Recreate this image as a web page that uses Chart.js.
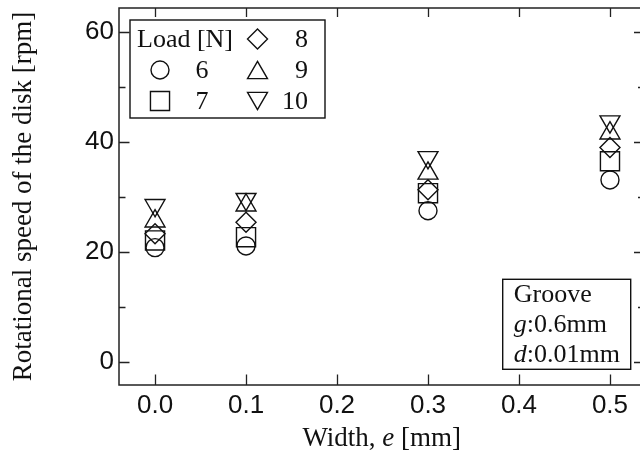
<!DOCTYPE html>
<html>
<head>
<meta charset="utf-8">
<script src="https://cdn.jsdelivr.net/npm/chart.js@4.4.0/dist/chart.umd.min.js"></script>
<style>
    html, body { margin: 0; padding: 0; background: #fff; }
</style>
</head>
<body>
<canvas id="chart" width="640" height="455"></canvas>
<script>
// =============================
// DATA
// =============================
const widths = [0.0, 0.1, 0.3, 0.5];
const load6 = [20.8, 21.1, 27.5, 33.1];
const load7 = [22.1, 22.7, 30.7, 36.5];
const load8 = [23.3, 25.4, 31.3, 39.0];
const load9 = [25.6, 28.5, 34.3, 41.6];
const load10 = [28.5, 29.6, 37.2, 43.7];
const loadNames = ["6", "7", "8", "9", "10"];

const xTicks = [0.0, 0.1, 0.2, 0.3, 0.4, 0.5];
const yTicks = [0, 20, 40, 60];
const yMinorTicks = [10, 30, 50];

const SANS = "'Liberation Sans', Arial, sans-serif";
const SERIF = "'Liberation Serif', 'Times New Roman', serif";
const INK = "#111";

// marker look per load
const markers = [
    { style: "circle", radius: 9, rotation: 0 },
    { style: "rect", radius: 13.5, rotation: 0 },
    { style: "rectRot", radius: 10, rotation: 0 },
    { style: "triangle", radius: 11.5, rotation: 0 },
    { style: "triangle", radius: 11.5, rotation: 180 }
];

const series = [load6, load7, load8, load9, load10];

const datasets = series.map((vals, i) => ({
    label: loadNames[i],
    data: widths.map((w, j) => ({ x: w, y: vals[j] })),
    showLine: false,
    pointStyle: markers[i].style,
    pointRadius: markers[i].radius,
    pointHoverRadius: markers[i].radius,
    pointRotation: markers[i].rotation,
    pointBorderColor: INK,
    pointBackgroundColor: "rgba(0,0,0,0)",
    pointBorderWidth: 1.4
}));

// =============================
// HELPERS
// =============================
function drawMarker(ctx, m, x, y) {
    const r = m.radius;
    ctx.beginPath();
    if (m.style === "circle") {
        ctx.arc(x, y, r, 0, Math.PI * 2);
    } else if (m.style === "rect") {
        const s = r * Math.SQRT1_2;
        ctx.rect(x - s, y - s, 2 * s, 2 * s);
    } else if (m.style === "rectRot") {
        ctx.moveTo(x - r, y);
        ctx.lineTo(x, y - r);
        ctx.lineTo(x + r, y);
        ctx.lineTo(x, y + r);
        ctx.closePath();
    } else {
        let rad = m.rotation * Math.PI / 180;
        ctx.moveTo(x + Math.sin(rad) * r, y - Math.cos(rad) * r);
        for (let k = 0; k < 2; k++) {
            rad += Math.PI * 2 / 3;
            ctx.lineTo(x + Math.sin(rad) * r, y - Math.cos(rad) * r);
        }
        ctx.closePath();
    }
    ctx.stroke();
}

// text made of [string, italic] parts
function drawParts(ctx, parts, x, y, align, size) {
    const fontOf = it => (it ? "italic " : "") + size + "px " + SERIF;
    let total = 0;
    parts.forEach(p => { ctx.font = fontOf(p[1]); total += ctx.measureText(p[0]).width; });
    let cx = align === "center" ? x - total / 2 : x;
    ctx.textAlign = "left";
    parts.forEach(p => {
        ctx.font = fontOf(p[1]);
        ctx.fillText(p[0], cx, y);
        cx += ctx.measureText(p[0]).width;
    });
}

// =============================
// FRAME, TICKS, BOXES
// =============================
const framePlugin = {
    id: "frame",
    afterDraw(chart) {
        const ctx = chart.ctx;
        const a = chart.chartArea;
        const xs = chart.scales.x;
        const ys = chart.scales.y;
        const left = a.left, top = a.top, bottom = a.bottom;
        const right = a.right + 4.5;

        ctx.save();
        ctx.strokeStyle = "#222";
        ctx.lineWidth = 1.5;
        ctx.strokeRect(left, top, right - left, bottom - top);

        ctx.lineWidth = 1.3;
        ctx.beginPath();
        xTicks.forEach(v => {
            const px = Math.round(xs.getPixelForValue(v)) + 0.5;
            ctx.moveTo(px, bottom); ctx.lineTo(px, bottom - 10.5);
            ctx.moveTo(px, top); ctx.lineTo(px, top + 9);
        });
        yTicks.forEach(v => {
            const py = Math.round(ys.getPixelForValue(v)) + 0.5;
            ctx.moveTo(left, py); ctx.lineTo(left + 10.5, py);
            ctx.moveTo(right, py); ctx.lineTo(right - 10.5, py);
        });
        yMinorTicks.forEach(v => {
            const py = Math.round(ys.getPixelForValue(v)) + 0.5;
            ctx.moveTo(left, py); ctx.lineTo(left + 6.5, py);
            ctx.moveTo(right, py); ctx.lineTo(right - 6.5, py);
        });
        ctx.stroke();

        // legend box
        const lx = left + 11, ly = top + 12, lw = 195, lh = 98;
        ctx.fillStyle = "#fff";
        ctx.fillRect(lx, ly, lw, lh);
        ctx.strokeStyle = INK;
        ctx.lineWidth = 1.4;
        ctx.strokeRect(lx, ly, lw, lh);

        ctx.fillStyle = INK;
        ctx.textBaseline = "alphabetic";
        ctx.font = "26px " + SERIF;
        ctx.textAlign = "left";
        ctx.fillText("Load [N]", lx + 7, ly + 26.5);

        const cells = [
            { m: 0, col: 0, row: 1 },
            { m: 1, col: 0, row: 2 },
            { m: 2, col: 1, row: 0 },
            { m: 3, col: 1, row: 1 },
            { m: 4, col: 1, row: 2 }
        ];
        cells.forEach(c => {
            const mk = markers[c.m];
            const mx = lx + (c.col === 0 ? 30 : 127.5);
            let my = ly + 19 + c.row * 31;
            if (mk.style === "triangle") my += mk.rotation ? -2.9 : 2.9;
            ctx.lineWidth = 1.4;
            drawMarker(ctx, mk, mx, my);
            ctx.font = "26px " + SERIF;
            ctx.textAlign = "right";
            const tx = lx + (c.col === 0 ? 78.5 : 178);
            ctx.fillText(loadNames[c.m], tx, ly + 26.5 + c.row * 31);
        });

        // groove box
        const gw = 128, gh = 90;
        const gx = a.right - 9.3 - gw, gy = bottom - 15.7 - gh;
        ctx.fillStyle = "#fff";
        ctx.fillRect(gx, gy, gw, gh);
        ctx.strokeStyle = INK;
        ctx.lineWidth = 1.4;
        ctx.strokeRect(gx, gy, gw, gh);
        ctx.fillStyle = INK;
        drawParts(ctx, [["Groove", false]], gx + 11, gy + 22.5, "left", 26);
        drawParts(ctx, [["g", true], [":0.6mm", false]], gx + 11, gy + 52.5, "left", 26);
        drawParts(ctx, [["d", true], [":0.01mm", false]], gx + 11, gy + 82.5, "left", 26);

        // x axis title
        drawParts(ctx, [["Width, ", false], ["e", true], [" [mm]", false]],
            (left + right) / 2, 446, "center", 27);

        ctx.restore();
    }
};

// =============================
// CHART
// =============================
new Chart(document.getElementById("chart").getContext("2d"), {
    type: "scatter",
    data: { datasets },
    options: {
        responsive: false,
        animation: false,
        devicePixelRatio: 1,
        layout: {
            autoPadding: false,
            padding: { top: 8, right: 0, left: 0, bottom: 0 }
        },
        plugins: {
            legend: { display: false },
            tooltip: { enabled: false }
        },
        scales: {
            x: {
                type: "linear",
                min: -0.0396,
                max: 0.533,
                afterBuildTicks: s => { s.ticks = xTicks.map(v => ({ value: v })); },
                afterFit: s => {
                    s.height = 70;
                    s.paddingLeft = 0;
                    s.paddingRight = 0;
                },
                grid: { display: false, drawTicks: false },
                border: { display: false },
                ticks: {
                    color: INK,
                    font: { family: SANS, size: 26 },
                    padding: 5,
                    maxRotation: 0,
                    autoSkip: false,
                    callback: v => v.toFixed(1)
                }
            },
            y: {
                type: "linear",
                min: -4.18,
                max: 64.36,
                afterBuildTicks: s => { s.ticks = yTicks.map(v => ({ value: v })); },
                afterFit: s => {
                    s.width = 119;
                    s.paddingTop = 0;
                    s.paddingBottom = 0;
                },
                grid: { display: false, drawTicks: false },
                border: { display: false },
                ticks: {
                    color: INK,
                    font: { family: SANS, size: 26 },
                    padding: 5,
                    autoSkip: false
                },
                title: {
                    display: true,
                    text: "Rotational speed of the disk [rpm]",
                    color: INK,
                    font: { family: SERIF, size: 27 },
                    padding: { top: 8, bottom: 0 }
                }
            }
        }
    },
    plugins: [framePlugin]
});
</script>
</body>
</html>
